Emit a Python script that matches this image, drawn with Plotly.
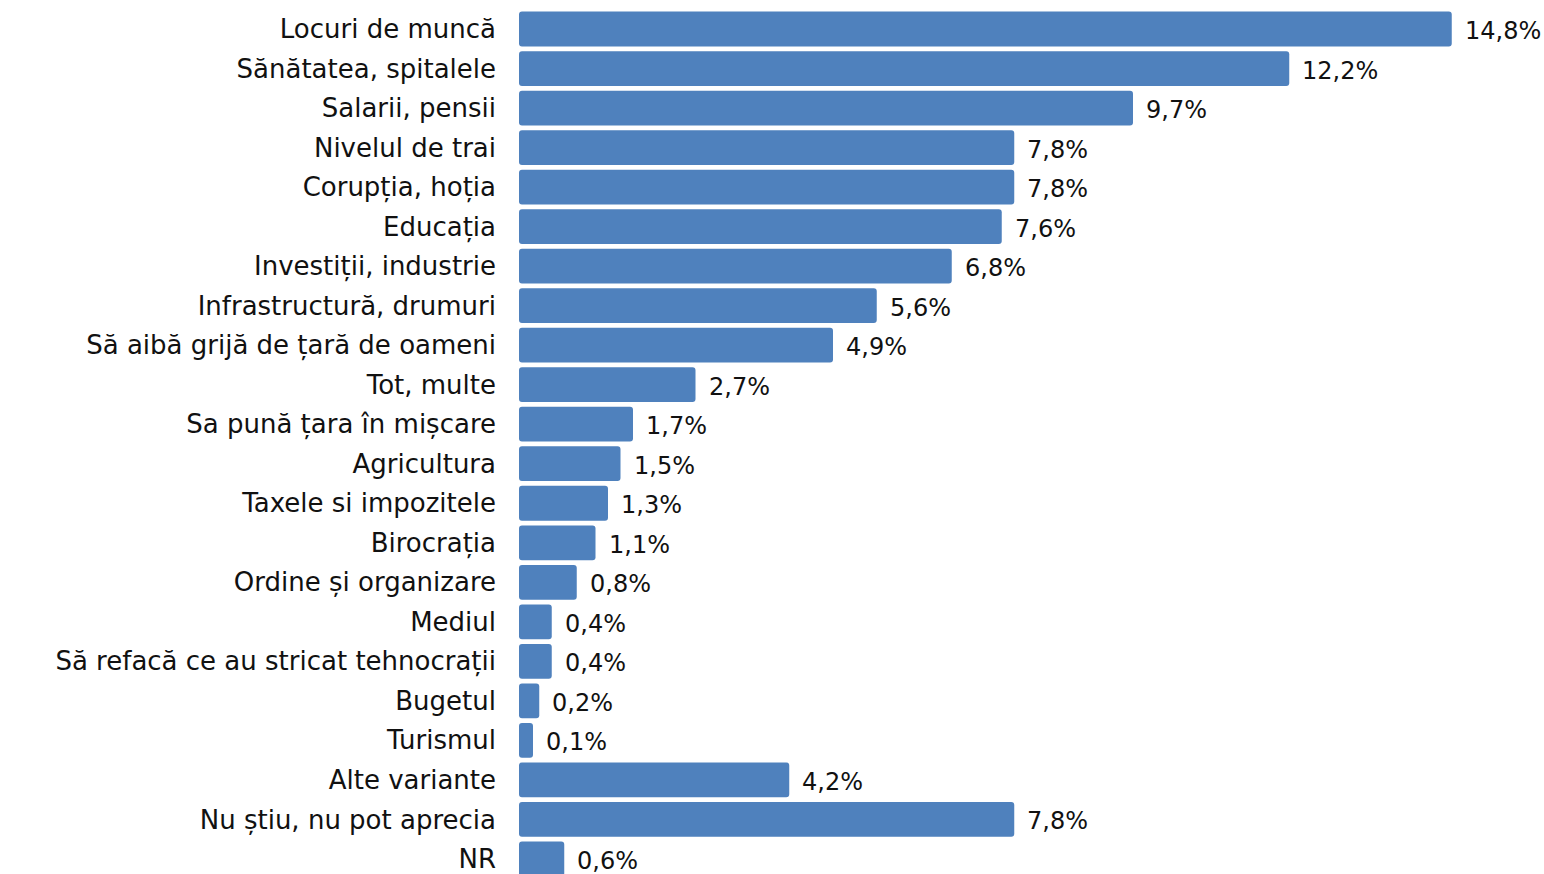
import plotly.graph_objects as go

categories = [
    "Locuri de muncă", "Sănătatea, spitalele", "Salarii, pensii", "Nivelul de trai",
    "Corupția, hoția", "Educația", "Investiții, industrie", "Infrastructură, drumuri",
    "Să aibă grijă de țară de oameni", "Tot, multe", "Sa pună țara în mișcare",
    "Agricultura", "Taxele si impozitele", "Birocrația", "Ordine și organizare",
    "Mediul", "Să refacă ce au stricat tehnocrații", "Bugetul", "Turismul",
    "Alte variante", "Nu știu, nu pot aprecia", "NR",
]
values = [14.8, 12.2, 9.7, 7.8, 7.8, 7.6, 6.8, 5.6, 4.9, 2.7, 1.7,
          1.5, 1.3, 1.1, 0.8, 0.4, 0.4, 0.2, 0.1, 4.2, 7.8, 0.6]
labels = [f"{v:.1f}%".replace(".", ",") for v in values]

BLUE = "#4F81BD"
FONT = "DejaVu Sans"
# in the original the bars start a little left of zero, so even 0,1% shows a stub
STUB = 0.124

fig = go.Figure(go.Bar(
    y=categories,
    x=[v + STUB for v in values],
    base=-STUB,
    orientation="h",
    marker=dict(color=BLUE, cornerradius=3, line_width=0),
    hoverinfo="skip",
))

for cat, v, lab in zip(categories, values, labels):
    fig.add_annotation(x=v, y=cat, text=lab, showarrow=False,
                       xanchor="left", xshift=11, yshift=-2,
                       font=dict(family=FONT, size=24, color="#111111"))

fig.update_layout(
    width=1544, height=874,
    margin=dict(l=519, r=0, t=0, b=0),
    plot_bgcolor="white", paper_bgcolor="white",
    bargap=0.12,
    showlegend=False,
    font=dict(family=FONT, size=26, color="#111111"),
)
fig.update_xaxes(range=[-STUB, 16.276], visible=False, showgrid=False, zeroline=False)
fig.update_yaxes(categoryorder="array", categoryarray=categories,
                 range=[21.381, -0.734], showgrid=False, zeroline=False,
                 showline=False, ticks="", ticklabelstandoff=22,
                 tickfont=dict(family=FONT, size=26, color="#111111"))

# drop the browser's default 8px body margin so the figure sits at the corner
fig.write_html("out.html", config={"displayModeBar": False},
               post_script="document.body.style.margin='0';")
